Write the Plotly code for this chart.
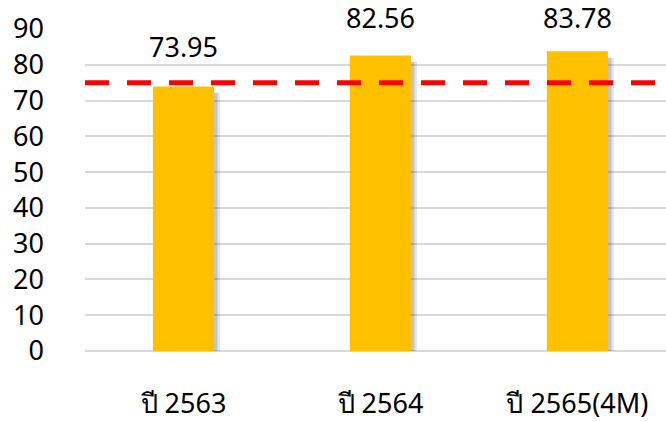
import plotly.graph_objects as go

# Yearly scores against a 75-point target
categories = ["ปี 2563", "ปี 2564", "ปี 2565(4M)"]
values = [73.95, 82.56, 83.78]
target = 75
y_ticks = [0, 10, 20, 30, 40, 50, 60, 70, 80, 90]

FONT = "Tahoma, 'Noto Sans', 'DejaVu Sans', sans-serif"
FS = 27
BAR_W = 0.31
LABEL_CAP = 82.3  # keep value labels inside the top of the chart
x_idx = list(range(len(categories)))

fig = go.Figure()

# soft drop shadow behind each bar
for dx, alpha in [(0.03, 0.10), (0.018, 0.14)]:
    fig.add_trace(go.Bar(
        x=x_idx, y=[v + 0.3 - 1.2 for v in values], base=-0.9,
        width=BAR_W, offset=-BAR_W / 2 + dx,
        marker=dict(color=f"rgba(0,0,0,{alpha})", line=dict(width=0)),
        hoverinfo="skip", showlegend=False,
    ))

fig.add_trace(go.Bar(
    x=x_idx, y=values, width=BAR_W, offset=-BAR_W / 2,
    marker=dict(color="#FFC000", line=dict(width=0)),
    showlegend=False,
))

# value labels above bars
for i, v in enumerate(values):
    fig.add_annotation(
        x=i, y=min(v, LABEL_CAP), text=f"{v:.2f}", showarrow=False,
        yanchor="bottom", yshift=19,
        font=dict(family=FONT, size=FS, color="#000000"),
    )

# target line
fig.add_shape(
    type="line", xref="paper", x0=0, x1=1, yref="y", y0=target, y1=target,
    line=dict(color="#FF0000", width=5, dash="24px,18px"),
)

fig.update_layout(
    width=666, height=421,
    margin=dict(l=85, r=0, t=29, b=68),
    paper_bgcolor="white", plot_bgcolor="white",
    barmode="overlay",
    font=dict(family=FONT, size=FS, color="#000000"),
    xaxis=dict(
        range=[-0.5, 2.45], tickmode="array", tickvals=x_idx, ticktext=categories,
        showgrid=False, zeroline=False, showline=False, ticks="",
        ticklabelstandoff=34, tickfont=dict(size=FS),
    ),
    yaxis=dict(
        range=[0, 90], tickmode="array", tickvals=y_ticks,
        showgrid=True, gridcolor="#D9D9D9", gridwidth=1.5,
        zeroline=True, zerolinecolor="#D9D9D9", zerolinewidth=1.5,
        showline=False, ticks="", ticklabelstandoff=40,
        tickfont=dict(size=FS),
    ),
)

fig.write_html("out.html")
